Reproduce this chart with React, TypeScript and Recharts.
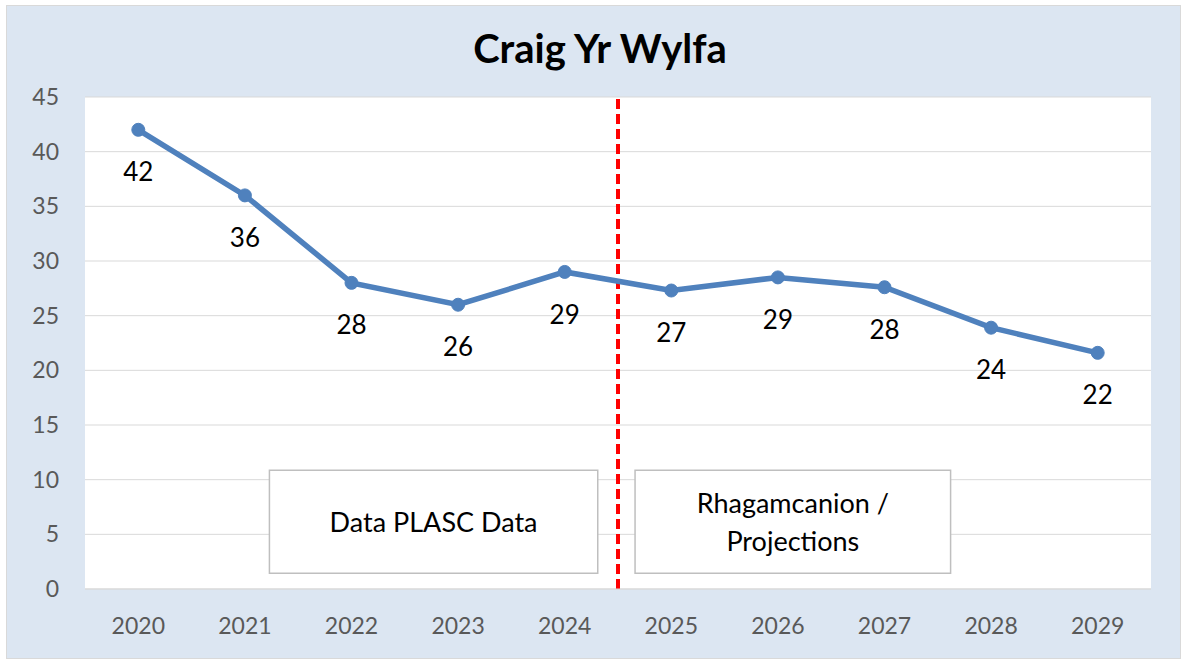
import { LineChart, Line, XAxis, YAxis, CartesianGrid, ReferenceLine, ReferenceArea } from "recharts";

const years = ["2020", "2021", "2022", "2023", "2024", "2025", "2026", "2027", "2028", "2029"];
const pupils = [42, 36, 28, 26, 29, 27.3, 28.5, 27.6, 23.9, 21.6];
const yTicks = [0, 5, 10, 15, 20, 25, 30, 35, 40, 45];
const xTicks = years.map((_, i) => i);

// text boxes drawn in data units
const notes = [
  { x1: 1.23, x2: 4.31, y1: 1.45, y2: 10.85, text: ["Data PLASC Data"] },
  { x1: 4.66, x2: 7.62, y1: 1.45, y2: 10.85, text: ["Rhagamcanion /", "Projections"] },
];

const data = years.map((year, i) => ({ idx: i, year, value: pupils[i] }));

const font = "Lato, 'Open Sans', sans-serif";
const tickStyle = { fill: "#595959", fontSize: 23, fontFamily: font };

const renderValue = (props: any) => {
  const { x, y, value } = props;
  return (
    <text x={x} y={y + 45} textAnchor="middle" dominantBaseline="middle" fill="#000" fontSize={26} fontFamily={font}>
      {Math.round(value)}
    </text>
  );
};

const noteLabel = (lines: string[]) => (props: any) => {
  const { viewBox } = props;
  const cx = viewBox.x + viewBox.width / 2;
  const cy = viewBox.y + viewBox.height / 2 + 3;
  const lh = 38;
  const start = cy - ((lines.length - 1) * lh) / 2;
  return (
    <text textAnchor="middle" fill="#000" fontSize={27} fontFamily={font}>
      {lines.map((l, i) => (
        <tspan key={i} x={cx} y={start + i * lh} dominantBaseline="middle">
          {l}
        </tspan>
      ))}
    </text>
  );
};

export default function App() {
  return (
    <div style={{ position: "absolute", left: 0, top: 0, width: 1185, height: 659, background: "#fff" }}>
      <div
        style={{
          position: "absolute",
          left: 6,
          top: 5,
          width: 1173,
          height: 652,
          border: "1px solid #d9d9d9",
          background: "#dce6f2",
        }}
      >
        <div
          style={{
            position: "absolute",
            top: 17,
            left: 0,
            width: 1186,
            textAlign: "center",
            fontFamily: font,
            fontWeight: "bold",
            fontSize: 40,
            lineHeight: "50px",
            color: "#000",
          }}
        >
          Craig Yr Wylfa
        </div>
        <LineChart width={1173} height={652} data={data} margin={{ top: 91, right: 29, bottom: 17, left: 18 }}>
          <CartesianGrid vertical={false} stroke="#d9d9d9" fill="#fff" />
          <XAxis
            dataKey="idx"
            type="number"
            domain={[-0.5, 9.5]}
            ticks={xTicks}
            tickFormatter={(i: number) => years[i]}
            tick={tickStyle}
            tickLine={false}
            axisLine={{ stroke: "#d9d9d9" }}
            tickMargin={23}
            height={52}
          />
          <YAxis
            domain={[0, 45]}
            ticks={yTicks}
            tick={tickStyle}
            tickLine={false}
            axisLine={false}
            width={60}
            tickMargin={20}
          />
          {notes.map((n, i) => (
            <ReferenceArea
              key={i}
              x1={n.x1}
              x2={n.x2}
              y1={n.y1}
              y2={n.y2}
              fill="#fff"
              fillOpacity={1}
              stroke="#bfbfbf"
              strokeWidth={1.5}
              label={noteLabel(n.text)}
            />
          ))}
          <ReferenceLine x={4.5} stroke="#ff0000" strokeWidth={4} strokeDasharray="10 5" />
          <Line
            type="linear"
            dataKey="value"
            stroke="#4f81bd"
            strokeWidth={5.5}
            dot={{ r: 6.5, fill: "#4f81bd", stroke: "#4f81bd", strokeWidth: 1 }}
            label={renderValue}
            isAnimationActive={false}
          />
        </LineChart>
      </div>
    </div>
  );
}
